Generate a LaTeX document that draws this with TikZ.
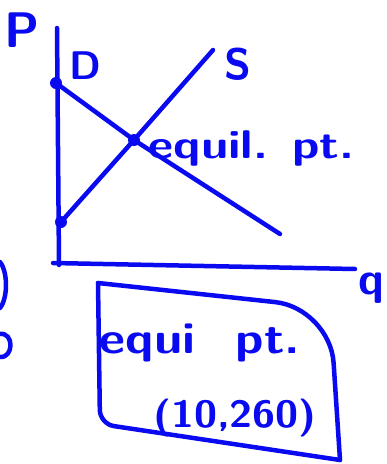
\documentclass[tikz,border=0pt]{standalone}
\usepackage{tikz}
\usetikzlibrary{positioning,calc}
\definecolor{InkBlue}{RGB}{10,10,240}

\begin{document}
\begin{tikzpicture}[x=1pt,y=-1pt,line width=4.5pt,line cap=round,line join=round,
	ink/.style={draw=InkBlue},
	dotpt/.style={circle,fill=InkBlue,inner sep=0pt,minimum size=12pt},
	lbl/.style={text=InkBlue,inner sep=0pt}]
			\useasboundingbox (0,0) rectangle (387,464);
			% axes
			\coordinate (Ptop) at (57,28);
			\coordinate (O) at (59,265);
			\coordinate (Qend) at (355,269);
			\draw[ink] (Ptop) -- (O);
			\draw[ink] (53,263) -- (Qend);
			\node[lbl,font=\sffamily\bfseries\fontsize{50}{50}\selectfont] (P) at (22,30) {P};
			\node[lbl,font=\sffamily\bfseries\fontsize{46}{46}\selectfont,anchor=east] (q) at (387,288) {q};
			% demand and supply
			\node[dotpt] (Dint) at (56,83) {};
			\node[dotpt] (Sint) at (61,222) {};
			\node[dotpt] (eq) at (134,140) {};
			\coordinate (Dend) at (280,234);
			\coordinate (Send) at (213,50);
			\draw[ink] (Dint.center) -- (eq.center) -- (Dend);
			\draw[ink] (Sint.center) -- (eq.center) -- (Send);
			\node[lbl,font=\sffamily\bfseries\fontsize{40}{40}\selectfont] (D) at (85,66) {D};
			\node[lbl,font=\sffamily\bfseries\fontsize{44}{44}\selectfont] (S) at (238,64) {S};
			\node[lbl,font=\sffamily\bfseries\fontsize{40}{40}\selectfont,anchor=west,xscale=1.22] (eqlbl) at (146,148) {equil. pt.};
			% answer box
			\draw[ink,rounded corners=14pt] (98,283) -- (100,424) -- (340,460);
			\draw[ink,rounded corners=55pt] (98,283) -- (330,308) -- (340,460);
			\node[lbl,font=\sffamily\bfseries\fontsize{44}{44}\selectfont,xscale=1.15] (ans1) at (200,343) {equi\hspace{0.8em}pt.};
			\node[lbl,font=\sffamily\bfseries\fontsize{38}{38}\selectfont,xscale=1.1] (ans2) at (235,418) {(10,260)};
			% cut-off marks at the left edge
			\draw[ink] (0,262) .. controls (8,272) and (8,298) .. (0,308);
			\draw[ink] (0,334) .. controls (14,332) and (14,358) .. (0,357);
		\end{tikzpicture}
\end{document}
